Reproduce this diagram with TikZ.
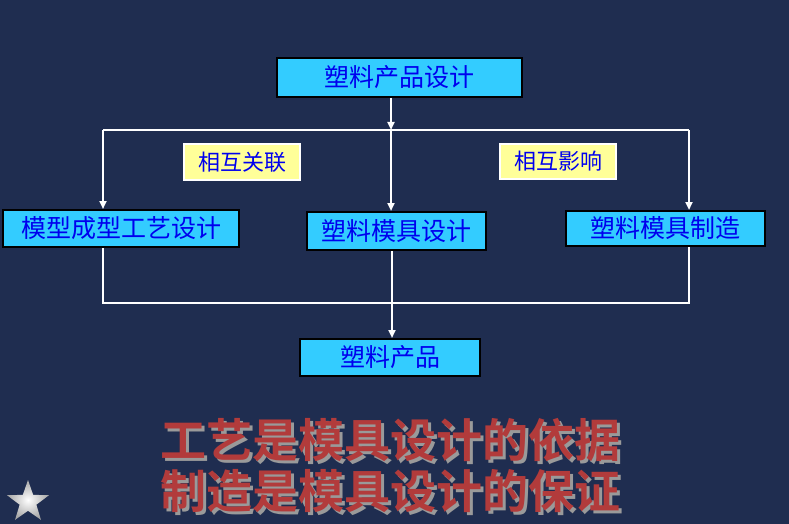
\documentclass[tikz,border=0pt]{standalone}
\usepackage{fontspec}
\newfontfamily\cjk{Noto Sans CJK SC}
\newfontfamily\cjkb{Noto Sans CJK SC Bold}
\usetikzlibrary{arrows.meta,shapes.geometric,shadows}
\definecolor{bg}{HTML}{1F2D50}
\definecolor{boxc}{HTML}{33CCFF}
\definecolor{txt}{HTML}{0000EE}
\definecolor{yel}{HTML}{FFFF99}
\definecolor{redt}{HTML}{B23B3B}
\definecolor{shd}{HTML}{9A9A9A}
\tikzset{
  box/.style={draw=black, line width=2pt, fill=boxc, text=txt, inner sep=0pt, font=\cjk\fontsize{25}{27}\selectfont},
  tag/.style={draw=white, line width=1.5pt, fill=yel, text=txt, inner sep=0pt, font=\cjk\fontsize{22}{24}\selectfont},
  wl/.style={draw=white, line width=2pt},
  wa/.style={draw=white, line width=2pt, -{Triangle[width=7pt,length=8pt]}},
  big/.style={font=\cjkb\fontsize{46}{50}\selectfont, inner sep=0pt},
}
\begin{document}
\begin{tikzpicture}[x=1pt,y=-1pt]
\fill[bg] (0,0) rectangle (789,524);
\useasboundingbox (0,0) rectangle (789,524);
% boxes
\node[box, minimum width=245pt, minimum height=39pt] (top) at (399.5,77.5) {\raisebox{2pt}{塑料产品设计}};
\node[box, minimum width=236pt, minimum height=37pt] (left) at (121,228.5) {\raisebox{2pt}{模型成型工艺设计}};
\node[box, minimum width=179pt, minimum height=38pt] (mid) at (396.5,231) {\raisebox{2pt}{塑料模具设计}};
\node[box, minimum width=199pt, minimum height=35pt] (right) at (665.5,228.5) {\raisebox{2pt}{塑料模具制造}};
\node[box, minimum width=180pt, minimum height=37pt] (prod) at (390,357.5) {\raisebox{2pt}{塑料产品}};
\node[tag, minimum width=116pt, minimum height=36pt] (t1) at (242,162) {相互关联};
\node[tag, minimum width=116pt, minimum height=35pt] (t2) at (558,161.5) {相互影响};
% coordinates
\coordinate (hl) at (103,130);
\coordinate (hr) at (689,130);
\coordinate (hm) at (391,130);
\coordinate (bl) at (103,303);
\coordinate (br) at (689,303);
\coordinate (bm) at (392,303);
% top connectors
\draw[wa] (top.south -| hm) -- (hm);
\draw[wl] (hl) -- (hr);
\draw[wa] (hl) -- (left.north -| hl);
\draw[wa] (hm) -- (mid.north -| hm);
\draw[wa] (hr) -- (right.north -| hr);
% bottom connectors
\draw[wl] (left.south -| bl) -- (bl) -- (br) -- (right.south -| br);
\draw[wa] (mid.south -| bm) -- (prod.north -| bm);
% big text with shadow
\node[big, text=shd] (s1) at (393,443) {工艺是模具设计的依据};
\node[big, text=redt] (l1) at (390,440) {工艺是模具设计的依据};
\node[big, text=shd] (s2) at (393,494) {制造是模具设计的保证};
\node[big, text=redt] (l2) at (390,491) {制造是模具设计的保证};
% star
\node[star, star points=5, star point ratio=2.5, minimum size=44pt, inner sep=0pt, draw=none,
  inner color=white, outer color=gray!70] (st) at (28,502) {};
\end{tikzpicture}
\end{document}
